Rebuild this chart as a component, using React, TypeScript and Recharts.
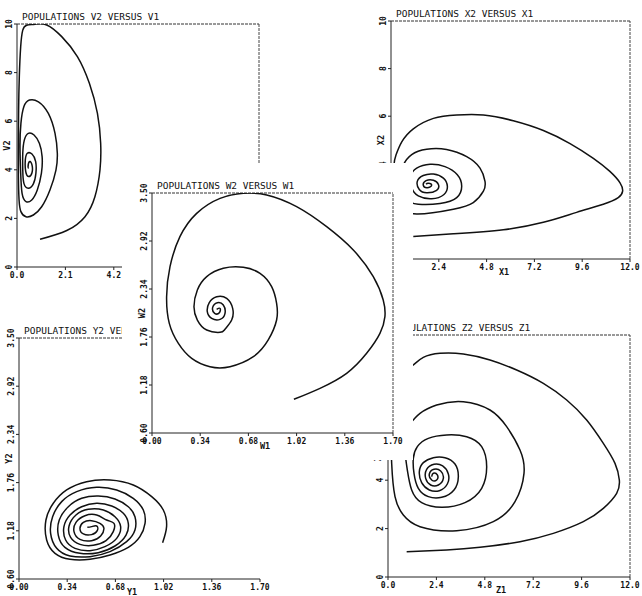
import React from 'react';
import { LineChart, Line, XAxis, YAxis, ReferenceLine } from 'recharts';

type Pt = [number, number];

// trajectories, in data units
const vPath: Pt[] = [
  [1.0, 1.14], [2.16, 1.5], [2.95, 2.07], [3.38, 2.89], [3.6, 3.99], [3.63, 5.09], [3.49, 6.32], [3.14, 7.56],
  [2.62, 8.66], [1.94, 9.48], [1.29, 9.96], [0.78, 9.99], [0.42, 9.95], [0.25, 9.75], [0.16, 9.07], [0.1, 7.83],
  [0.07, 6.46], [0.06, 5.09], [0.06, 3.72], [0.09, 2.76], [0.17, 2.28], [0.39, 2.07], [0.71, 2.14], [1.07, 2.48],
  [1.43, 3.17], [1.69, 3.99], [1.75, 4.68], [1.65, 5.5], [1.36, 6.32], [0.93, 6.8], [0.54, 6.87], [0.3, 6.6],
  [0.17, 5.91], [0.13, 4.95], [0.16, 3.86], [0.22, 3.03], [0.39, 2.69], [0.64, 2.76], [0.88, 3.17], [1.06, 3.86],
  [1.09, 4.54], [0.97, 5.09], [0.74, 5.43], [0.49, 5.5], [0.32, 5.23], [0.25, 4.68], [0.25, 3.99], [0.3, 3.44],
  [0.49, 3.24], [0.71, 3.42], [0.82, 3.86], [0.81, 4.34], [0.65, 4.65], [0.45, 4.68], [0.36, 4.4], [0.38, 3.92],
  [0.51, 3.72], [0.65, 3.88], [0.65, 4.2], [0.54, 4.34], [0.48, 4.13], [0.51, 4.06],
];

const xPath: Pt[] = [
  [1.12, 0.95], [3.13, 1.06], [5.64, 1.23], [7.65, 1.54], [9.32, 1.96], [10.66, 2.3], [11.41, 2.58], [11.63, 2.85],
  [11.5, 3.2], [10.99, 3.68], [10.16, 4.23], [8.99, 4.85], [7.65, 5.4], [6.14, 5.81], [4.64, 6.05], [3.3, 6.05],
  [2.13, 5.91], [1.12, 5.47], [0.54, 4.92], [0.25, 4.37], [0.15, 3.95], [0.2, 2.99], [0.54, 2.23], [1.29, 1.89],
  [3.13, 2.09], [4.13, 2.37], [4.64, 2.85], [4.72, 3.26], [4.47, 3.82], [3.8, 4.3], [2.79, 4.6], [1.79, 4.61],
  [1.04, 4.39], [0.62, 3.95], [0.54, 3.4], [0.79, 2.58], [1.37, 2.3], [2.46, 2.33], [3.3, 2.58], [3.55, 3.06],
  [3.33, 3.54], [2.71, 3.88], [1.96, 3.98], [1.29, 3.82], [0.99, 3.47], [1.04, 2.99], [1.37, 2.65], [2.04, 2.53],
  [2.66, 2.71], [2.83, 3.06], [2.63, 3.4], [2.13, 3.57], [1.62, 3.51], [1.32, 3.26], [1.42, 2.92], [1.79, 2.78],
  [2.29, 2.88], [2.38, 3.13], [2.13, 3.31], [1.76, 3.29], [1.62, 3.1], [1.82, 2.99], [2.04, 3.1], [1.87, 3.18],
  [1.76, 3.14],
];

const wPath: Pt[] = [
  [1.001, 1.007], [1.185, 1.14], [1.373, 1.321], [1.514, 1.563], [1.608, 1.804], [1.643, 2.006], [1.631, 2.207],
  [1.561, 2.489], [1.42, 2.811], [1.232, 3.093], [1.02, 3.335], [0.809, 3.476], [0.644, 3.496], [0.48, 3.435],
  [0.315, 3.254], [0.197, 2.972], [0.127, 2.61], [0.103, 2.247], [0.122, 1.925], [0.186, 1.683], [0.28, 1.502],
  [0.409, 1.401], [0.55, 1.401], [0.715, 1.522], [0.82, 1.724], [0.879, 1.965], [0.879, 2.167], [0.844, 2.368],
  [0.762, 2.529], [0.644, 2.602], [0.503, 2.59], [0.386, 2.489], [0.32, 2.328], [0.296, 2.126], [0.32, 1.965],
  [0.386, 1.844], [0.48, 1.816], [0.515, 1.853], [0.562, 1.965], [0.569, 2.106], [0.527, 2.227], [0.456, 2.247],
  [0.404, 2.175], [0.39, 2.066], [0.421, 1.985], [0.48, 1.973], [0.515, 2.046], [0.503, 2.147], [0.461, 2.175],
  [0.428, 2.118], [0.442, 2.046], [0.475, 2.054], [0.48, 2.106], [0.456, 2.094],
];

const yPath: Pt[] = [
  [1.013, 1.037], [1.041, 1.23], [1.018, 1.43], [0.936, 1.591], [0.806, 1.731], [0.642, 1.791], [0.477, 1.771],
  [0.336, 1.671], [0.242, 1.511], [0.19, 1.31], [0.195, 1.069], [0.254, 0.909], [0.36, 0.837], [0.501, 0.837],
  [0.642, 0.889], [0.771, 0.981], [0.853, 1.109], [0.889, 1.27],
  [0.877, 1.43], [0.806, 1.571], [0.689, 1.671], [0.548, 1.703], [0.407, 1.651], [0.301, 1.531], [0.237, 1.35],
  [0.223, 1.15], [0.266, 0.969], [0.36, 0.877], [0.501, 0.869], [0.642, 0.929], [0.759, 1.049], [0.818, 1.19],
  [0.818, 1.35],
  [0.771, 1.47], [0.677, 1.563], [0.559, 1.599], [0.442, 1.571], [0.348, 1.47], [0.284, 1.31], [0.277, 1.129],
  [0.324, 0.981], [0.43, 0.909], [0.559, 0.917], [0.677, 0.997], [0.755, 1.129], [0.771, 1.27],
  [0.736, 1.39], [0.654, 1.478], [0.548, 1.511], [0.442, 1.47], [0.36, 1.37], [0.317, 1.23], [0.329, 1.069],
  [0.395, 0.969], [0.501, 0.941], [0.606, 0.989], [0.689, 1.089], [0.717, 1.23],
  [0.677, 1.35], [0.595, 1.43], [0.489, 1.438], [0.402, 1.37], [0.353, 1.238], [0.364, 1.101], [0.43, 1.017],
  [0.524, 1.005], [0.614, 1.061], [0.665, 1.17], [0.67, 1.27],
  [0.618, 1.31], [0.548, 1.37], [0.465, 1.362], [0.402, 1.282], [0.388, 1.17], [0.43, 1.077], [0.512, 1.061],
  [0.576, 1.117], [0.599, 1.21],
  [0.571, 1.27], [0.512, 1.302], [0.454, 1.282], [0.43, 1.21], [0.454, 1.142], [0.512, 1.134], [0.552, 1.182],
  [0.548, 1.238], [0.512, 1.23], [0.482, 1.222],
];

const zPath: Pt[] = [
  [0.926, 1.047], [2.909, 1.116], [4.562, 1.226], [6.545, 1.46], [8.198, 1.804], [9.686, 2.287], [10.678, 2.837],
  [11.339, 3.457], [11.471, 4.008], [11.256, 4.697], [10.678, 5.523], [9.851, 6.488], [8.86, 7.314], [7.702, 8.003],
  [6.38, 8.554], [5.058, 8.967], [3.736, 9.215], [2.579, 9.242], [1.752, 9.077], [1.256, 8.76], [0.76, 8.278],
  [0.347, 7.176], [0.182, 5.799], [0.182, 4.697], [0.347, 3.32], [0.76, 2.562], [1.587, 2.08], [3.405, 1.915],
  [5.223, 2.287], [6.298, 3.113], [6.744, 4.284], [6.545, 5.248], [5.884, 6.212], [5.058, 6.901], [3.736, 7.245],
  [2.413, 7.107], [1.587, 6.763], [1.256, 6.488], [0.926, 6.074], [0.843, 5.248], [0.959, 4.421], [1.174, 3.595],
  [1.669, 3.072], [2.661, 2.879], [3.818, 3.072], [4.645, 3.664], [4.893, 4.559], [4.645, 5.386], [3.901, 5.799],
  [2.909, 5.868], [2.0, 5.73], [1.455, 5.386], [1.256, 4.904], [1.289, 4.284], [1.504, 3.664], [2.0, 3.32],
  [2.661, 3.292], [3.273, 3.595], [3.488, 4.146], [3.322, 4.669], [2.826, 4.931], [2.248, 4.931], [1.752, 4.725],
  [1.554, 4.353], [1.669, 3.898], [2.05, 3.595], [2.545, 3.567], [2.942, 3.843], [2.992, 4.256], [2.711, 4.587],
  [2.281, 4.656], [1.917, 4.449], [1.868, 4.077], [2.116, 3.802], [2.496, 3.802], [2.744, 4.077], [2.612, 4.38],
  [2.281, 4.449], [2.05, 4.256], [2.165, 4.008], [2.413, 4.008], [2.446, 4.215], [2.248, 4.284], [2.165, 4.146],
];

// axis ticks and their printed labels
const vXTicks = [0, 2.1, 4.2, 6.3, 8.4, 10.5];
const vXLabels = ['0.0', '2.1', '4.2', '6.3', '8.4', '10.5'];
const tenTicks = [0, 2, 4, 6, 8, 10];
const tenLabels = ['0', '2', '4', '6', '8', '10'];
const twelveTicks = [0, 2.4, 4.8, 7.2, 9.6, 12];
const twelveLabels = ['0.0', '2.4', '4.8', '7.2', '9.6', '12.0'];
const smallXTicks = [0, 0.34, 0.68, 1.02, 1.36, 1.7];
const smallXLabels = ['0.00', '0.34', '0.68', '1.02', '1.36', '1.70'];
const smallYTicks = [0.6, 1.18, 1.76, 2.34, 2.92, 3.5];
const smallYLabels = ['0.60', '1.18', '1.76', '2.34', '2.92', '3.50'];

const MONO = '"DejaVu Sans Mono", "Liberation Mono", monospace';
const PAD_L = 34;
const PAD_T = 26;
const PAD_R = 16;
const PAD_B = 34;

const lookup = (ticks: number[], labels: string[], v: number) => {
  const i = ticks.findIndex((t) => Math.abs(t - v) < 1e-6);
  return i >= 0 ? labels[i] : '';
};

interface PanelProps {
  left: number;
  top: number;
  w: number;
  h: number;
  path: Pt[];
  xDomain: [number, number];
  yDomain: [number, number];
  xTicks: number[];
  xLabels: string[];
  yTicks: number[];
  yLabels: string[];
  title: string;
  xName: string;
  yName: string;
  rightEdge?: boolean;
}

const Panel: React.FC<PanelProps> = ({
  left, top, w, h, path, xDomain, yDomain, xTicks, xLabels, yTicks, yLabels, title, xName, yName,
  rightEdge = true,
}) => {
  const pts = path.map(([x, y]) => ({ x, y }));
  const W = w + PAD_L + PAD_R;
  const H = h + PAD_T + PAD_B;

  const XTick = (p: any) => (
    <text x={p.x} y={p.y + 6} textAnchor="middle" fontSize={8} fontWeight="bold" fontFamily={MONO} fill="#111">
      {lookup(xTicks, xLabels, p.payload.value)}
    </text>
  );
  const YTick = (p: any) => (
    <text
      x={p.x}
      y={p.y}
      transform={`rotate(-90 ${p.x} ${p.y})`}
      textAnchor="middle"
      fontSize={8}
      fontWeight="bold"
      fontFamily={MONO}
      fill="#111"
    >
      {lookup(yTicks, yLabels, p.payload.value)}
    </text>
  );

  return (
    <div style={{ position: 'absolute', left: left - PAD_L, top: top - PAD_T, width: W, height: H }}>
      <LineChart width={W} height={H} margin={{ top: PAD_T, right: PAD_R, left: 4, bottom: 4 }}>
        <XAxis
          type="number"
          dataKey="x"
          domain={xDomain}
          ticks={xTicks}
          interval={0}
          allowDataOverflow
          height={PAD_B - 4}
          tickSize={3}
          tick={XTick}
          axisLine={{ stroke: '#222' }}
          tickLine={{ stroke: '#222' }}
        />
        <YAxis
          type="number"
          dataKey="y"
          domain={yDomain}
          ticks={yTicks}
          interval={0}
          allowDataOverflow
          width={PAD_L - 4}
          tickSize={3}
          tick={YTick}
          axisLine={{ stroke: '#222' }}
          tickLine={{ stroke: '#222' }}
        />
        <ReferenceLine y={yDomain[1]} stroke="#333" strokeDasharray="3 1" />
        {rightEdge && <ReferenceLine x={xDomain[1]} stroke="#444" strokeDasharray="3 1" />}
        <Line
          data={pts}
          dataKey="y"
          type="natural"
          stroke="#111"
          strokeWidth={1.5}
          dot={false}
          isAnimationActive={false}
        />
      </LineChart>
      <svg width={W} height={H} style={{ position: 'absolute', left: 0, top: 0, pointerEvents: 'none' }}>
        <text x={PAD_L + 5} y={PAD_T - 4} fontSize={9.5} fontFamily={MONO} fill="#111">
          {title}
        </text>
        <text x={PAD_L + 113} y={PAD_T + h + 16} textAnchor="middle" fontSize={8.5} fontWeight="bold" fontFamily={MONO} fill="#111">
          {xName}
        </text>
        <text
          x={PAD_L - 7}
          y={PAD_T + h / 2}
          transform={`rotate(-90 ${PAD_L - 7} ${PAD_T + h / 2})`}
          textAnchor="middle"
          fontSize={8.5}
          fontWeight="bold"
          fontFamily={MONO}
          fill="#111"
        >
          {yName}
        </text>
      </svg>
    </div>
  );
};

export default function App() {
  return (
    <div style={{ position: 'absolute', left: 0, top: 0, width: 642, height: 596, background: '#fff', overflow: 'hidden' }}>
      <Panel
        left={17} top={24} w={242} h={243} path={vPath}
        xDomain={[0, 10.5]} yDomain={[0, 10]}
        xTicks={vXTicks} xLabels={vXLabels} yTicks={tenTicks} yLabels={tenLabels}
        title="POPULATIONS V2 VERSUS V1" xName="V1" yName="V2"
      />
      <Panel
        left={391} top={21} w={239} h={238} path={xPath}
        xDomain={[0, 12]} yDomain={[0, 10]}
        xTicks={twelveTicks} xLabels={twelveLabels} yTicks={tenTicks} yLabels={tenLabels}
        title="POPULATIONS X2 VERSUS X1" xName="X1" yName="X2"
      />
      <Panel
        left={19} top={338} w={241} h={241} path={yPath}
        xDomain={[0, 1.7]} yDomain={[0.6, 3.5]}
        xTicks={smallXTicks} xLabels={smallXLabels} yTicks={smallYTicks} yLabels={smallYLabels}
        title="POPULATIONS Y2 VERSUS Y1" xName="Y1" yName="Y2" rightEdge={false}
      />
      <Panel
        left={388} top={335} w={242} h={242} path={zPath}
        xDomain={[0, 12]} yDomain={[0, 10]}
        xTicks={twelveTicks} xLabels={twelveLabels} yTicks={tenTicks} yLabels={tenLabels}
        title="POPULATIONS Z2 VERSUS Z1" xName="Z1" yName="Z2"
      />
      {/* the W plot was pasted over the others on a white patch */}
      <div style={{ position: 'absolute', left: 122, top: 163, width: 291, height: 297, background: '#fff' }} />
      <Panel
        left={152} top={193} w={241} h={240} path={wPath}
        xDomain={[0, 1.7]} yDomain={[0.6, 3.5]}
        xTicks={smallXTicks} xLabels={smallXLabels} yTicks={smallYTicks} yLabels={smallYLabels}
        title="POPULATIONS W2 VERSUS W1" xName="W1" yName="W2"
      />
    </div>
  );
}
